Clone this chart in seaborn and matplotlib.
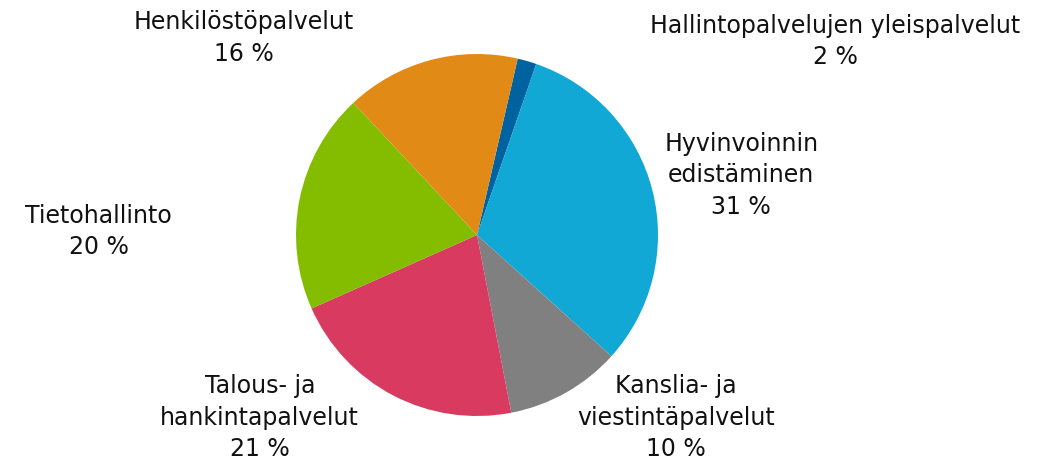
import numpy as np
import matplotlib
matplotlib.use("Agg")
import matplotlib.pyplot as plt
import seaborn as sns

### Data

categories = ["Hallintopalvelujen yleispalvelut", "Hyvinvoinnin\nedistäminen",
              "Kanslia- ja\nviestintäpalvelut", "Talous- ja\nhankintapalvelut",
              "Tietohallinto", "Henkilöstöpalvelut"]
shares = [1.7, 31.4, 10.3, 21.4, 19.7, 15.6]
pct_labels = ["2 %", "31 %", "10 %", "21 %", "20 %", "16 %"]

colors = ["#0063A0", "#12A8D6", "#808080", "#D83A60", "#84BD00", "#E18B16"]

# label centres in radius units (layout only)
label_pos = [(1.98, 1.07), (1.46, 0.33), (1.10, -1.01),
             (-1.20, -1.01), (-2.09, 0.02), (-1.29, 1.09)]

sns.set_theme(style="white")
plt.rcParams['font.family'] = ['DejaVu Sans']

fig = plt.figure(figsize=(10.56, 4.66), dpi=100)
ax = fig.add_axes([0, 0, 1, 1])

ax.pie(shares, colors=colors, startangle=77, counterclock=False,
       radius=1, wedgeprops=dict(linewidth=0))

for name, pct, (x, y) in zip(categories, pct_labels, label_pos):
    ax.text(x, y, name + "\n" + pct, ha="center", va="center",
            fontsize=17, color="#111111", linespacing=1.4)

r_px = 181
cx, cy = 477, 235
ax.set_xlim(-cx / r_px, (1056 - cx) / r_px)
ax.set_ylim(-(466 - cy) / r_px, cy / r_px)
ax.set_aspect("equal")
ax.axis("off")

fig.savefig("out.png", dpi=100)
